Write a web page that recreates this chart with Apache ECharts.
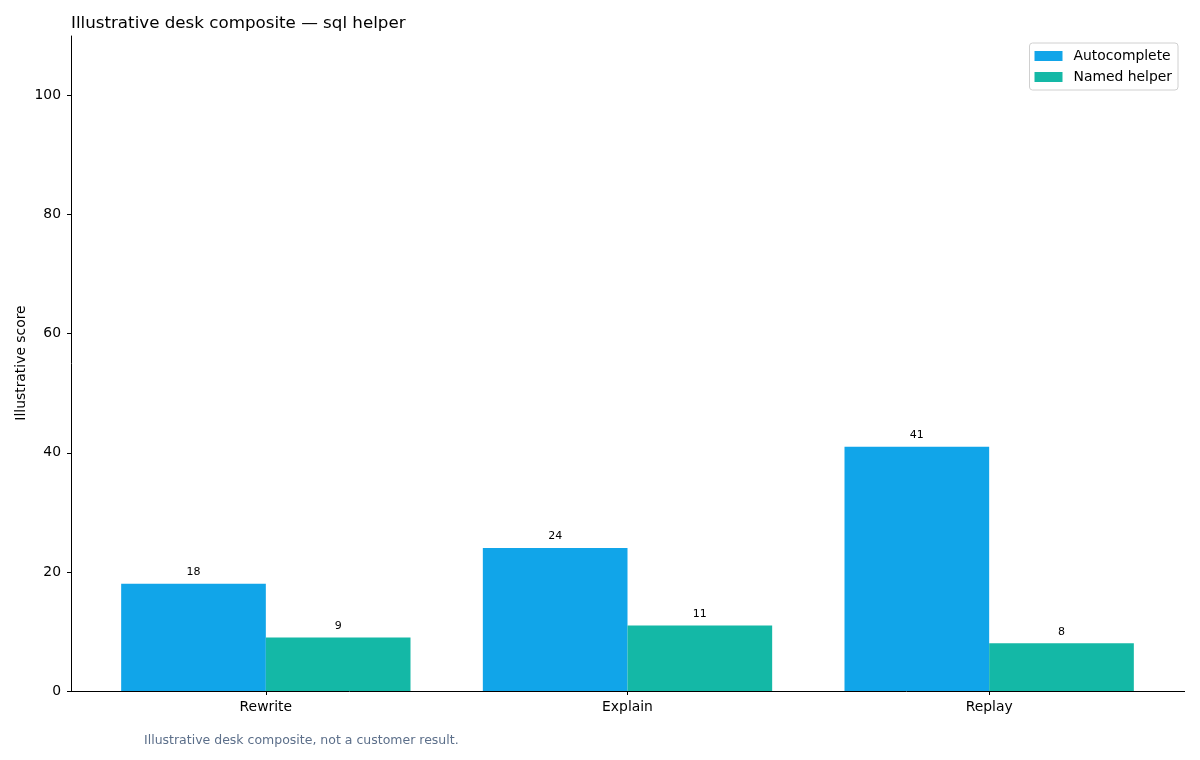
<!DOCTYPE html>
<html>
<head>
<meta charset="utf-8">
<script src="https://cdn.jsdelivr.net/npm/echarts@6/dist/echarts.min.js"></script>
<style>
  html, body { margin: 0; padding: 0; background: #fff; }
  #chart { width: 1200px; height: 760px; }
</style>
</head>
<body>
<div id="chart"></div>
<script>
// data
const categories = ['Rewrite', 'Explain', 'Replay'];
const autocomplete = [18, 24, 41];
const namedHelper = [9, 11, 8];
const yTicks = [0, 20, 40, 60, 80, 100];

const FONT = 'DejaVu Sans';

function drawChart() {
    const chart = echarts.init(document.getElementById('chart'));

    const barLabel = {
        show: true,
        position: 'top',
        distance: 6,
        fontFamily: FONT,
        fontSize: 11,
        color: '#000',
    };

    const option = {
        animation: false,
        textStyle: { fontFamily: FONT },
        title: {
            text: 'Illustrative desk composite \u2014 sql helper',
            left: 66,
            top: 10,
            textStyle: { fontFamily: FONT, fontSize: 16.7, fontWeight: 'normal', color: '#000' },
        },
        legend: {
            orient: 'vertical',
            right: 22,
            top: 43,
            itemWidth: 28,
            itemHeight: 10,
            itemGap: 7,
            padding: [6, 6, 6, 5],
            borderColor: '#d0d0d0',
            borderWidth: 1,
            borderRadius: 3,
            icon: 'rect',
            textStyle: { fontFamily: FONT, fontSize: 13.9, color: '#000', padding: [0, 0, 0, 6] },
            data: ['Autocomplete', 'Named helper'],
        },
        grid: { left: 85, right: 30, top: 36, bottom: 69 },
        xAxis: {
            type: 'category',
            data: categories,
            axisLine: { show: false },
            axisTick: { show: true, alignWithLabel: true, length: 4, lineStyle: { color: '#000' } },
            axisLabel: { fontFamily: FONT, fontSize: 13.9, color: '#000', margin: 9 },
        },
        yAxis: {
            type: 'value',
            min: 0,
            max: 110,
            offset: 14,
            splitLine: { show: false },
            axisLine: { show: true, lineStyle: { color: '#000', width: 1 } },
            axisTick: { show: true, length: 4, customValues: yTicks, lineStyle: { color: '#000' } },
            axisLabel: { fontFamily: FONT, fontSize: 13.9, color: '#000', margin: 10, customValues: yTicks },
        },
        series: [
            {
                name: 'Autocomplete',
                type: 'bar',
                data: autocomplete,
                barGap: '0%',
                barCategoryGap: '20%',
                itemStyle: { color: '#11a5e9', borderWidth: 0 },
                label: barLabel,
            },
            {
                name: 'Named helper',
                type: 'bar',
                data: namedHelper,
                barGap: '0%',
                barCategoryGap: '20%',
                itemStyle: { color: '#14b8a6', borderWidth: 0 },
                label: barLabel,
            },
        ],
        graphic: [
            {
                // bottom spine spans the full plot width
                type: 'line',
                shape: { x1: 71, y1: 691.5, x2: 1185, y2: 691.5 },
                style: { stroke: '#000', lineWidth: 1 },
                z: 10,
            },
            {
                // y axis title, placed by hand so it sits where the reference has it
                type: 'text',
                x: 21,
                y: 363,
                rotation: Math.PI / 2,
                style: {
                    text: 'Illustrative score',
                    fontFamily: FONT,
                    fontSize: 13.9,
                    fill: '#000',
                    align: 'center',
                    verticalAlign: 'middle',
                },
            },
            {
                type: 'text',
                left: 144,
                top: 734,
                style: {
                    text: 'Illustrative desk composite, not a customer result.',
                    fontFamily: FONT,
                    fontSize: 12.5,
                    fill: '#5c6f8a',
                },
            },
        ],
    };

    chart.setOption(option);
    return chart;
}

drawChart();
</script>
</body>
</html>
